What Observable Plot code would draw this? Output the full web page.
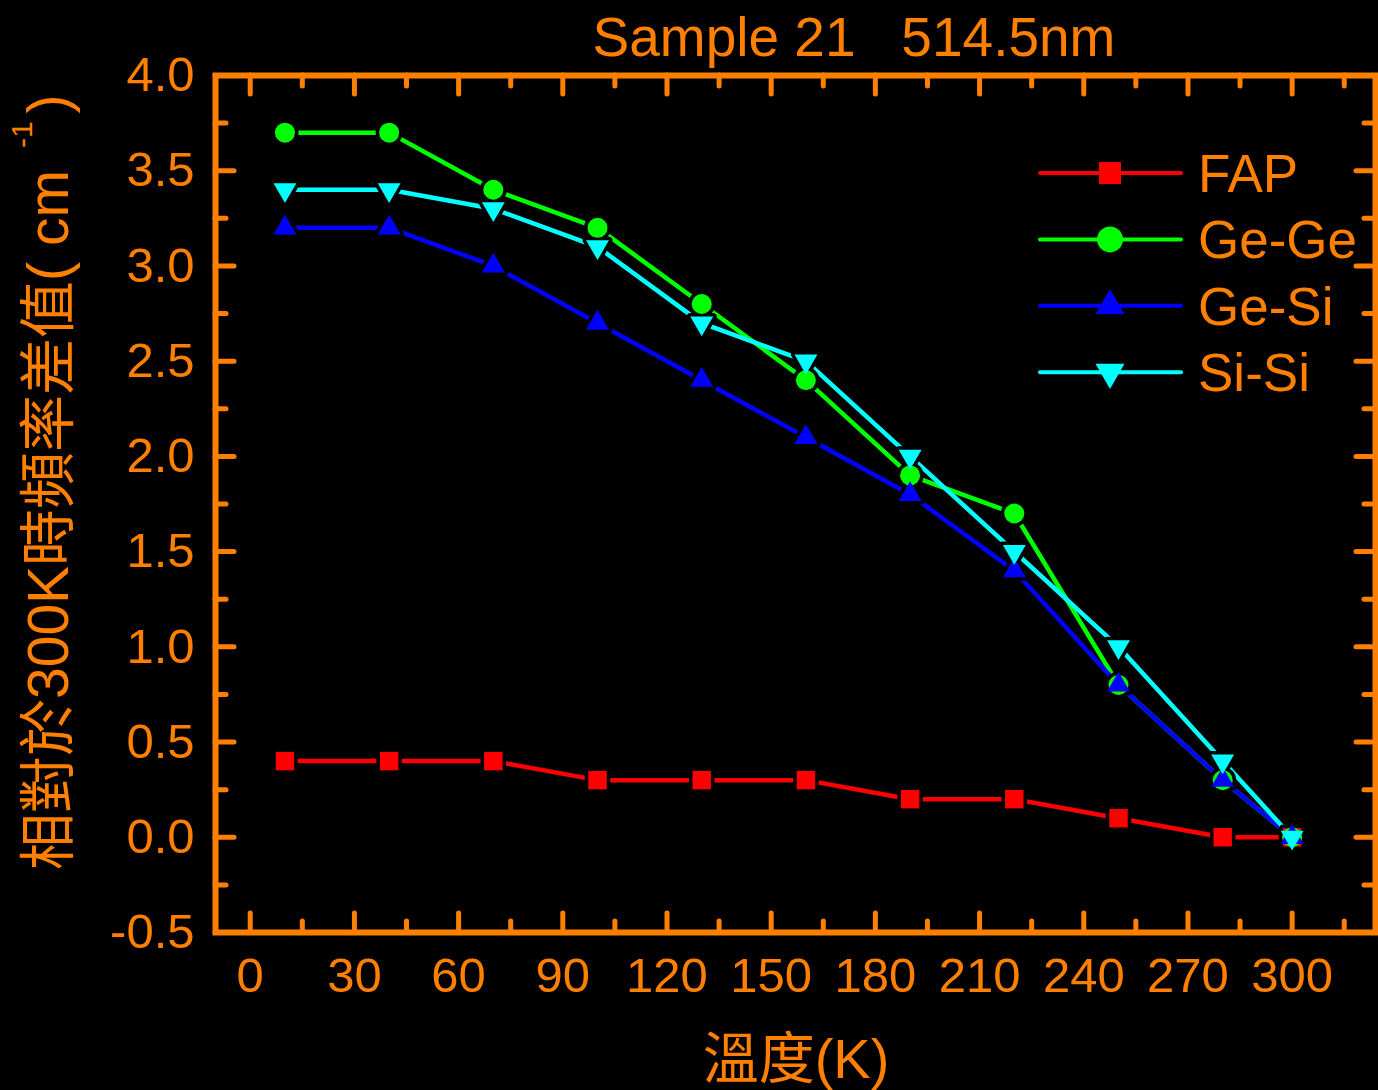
<!DOCTYPE html>
<html>
<head>
<meta charset="utf-8">
<script src="https://cdn.jsdelivr.net/npm/d3@7"></script>
<script src="https://cdn.jsdelivr.net/npm/@observablehq/plot@0.6"></script>
<style>
  html, body { margin: 0; padding: 0; background: #000; }
  #chart svg { display: block; }
</style>
</head>
<body>
<div id="chart"></div>
<script>
// ---------- data ----------
const temperatures = [10, 40, 70, 100, 130, 160, 190, 220, 250, 280, 300];
const seriesNames = ["FAP", "Ge-Ge", "Ge-Si", "Si-Si"];
const fapValues  = [0.4, 0.4, 0.4, 0.3, 0.3, 0.3, 0.2, 0.2, 0.1, 0.0, 0.0];
const geGeValues = [3.7, 3.7, 3.4, 3.2, 2.8, 2.4, 1.9, 1.7, 0.8, 0.3, 0.0];
const geSiValues = [3.2, 3.2, 3.0, 2.7, 2.4, 2.1, 1.8, 1.4, 0.8, 0.3, 0.0];
const siSiValues = [3.4, 3.4, 3.3, 3.1, 2.7, 2.5, 2.0, 1.5, 1.0, 0.4, 0.0];
const seriesValues = [fapValues, geGeValues, geSiValues, siSiValues];

const xMajorTicks = [0, 30, 60, 90, 120, 150, 180, 210, 240, 270, 300];
const xMinorTicks = [15, 45, 75, 105, 135, 165, 195, 225, 255, 285, 315];
const yMajorTicks = [-0.5, 0.0, 0.5, 1.0, 1.5, 2.0, 2.5, 3.0, 3.5, 4.0];
const yMinorTicks = [-0.25, 0.25, 0.75, 1.25, 1.75, 2.25, 2.75, 3.25, 3.75];

const titleText = "Sample 21   514.5nm";
const xLabelText = "溫度(K)";
const yLabelMain = "相對於300K時頻率差值( cm";
const yLabelSup = "-1";
const yLabelEnd = ")";

// ---------- styles ----------
const ORANGE = "#ff8000";
const seriesColors = ["#ff0000", "#00ff00", "#0000ff", "#00ffff"];
const triangleDown = {
  draw(context, size) {
    const y = -Math.sqrt(size / (Math.sqrt(3) * 3));
    context.moveTo(0, -y * 2);
    context.lineTo(-Math.sqrt(3) * y, y);
    context.lineTo(Math.sqrt(3) * y, y);
    context.closePath();
  }
};
const seriesSymbols = ["square", "circle", "triangle", triangleDown];
const seriesR = [10.4, 10, 8.5, 8.5];
const legendSizes = [484, 531, 364, 364];
const FONT = "'Liberation Sans', Arial, 'Noto Sans CJK TC', sans-serif";

const W = 1378, H = 1090;
const mTop = 75, mBottom = 158, mLeft = 215, mRight = 3;
const innerH = H - mTop - mBottom, innerW = W - mLeft - mRight;
const majorLen = 19, minorLen = 11;

const rows = seriesNames.map((name, i) =>
  temperatures.map((t, j) => ({series: name, t, v: seriesValues[i][j]})));

const marks = [];
// ticks (inward, on all four sides)
marks.push(
  Plot.tickX(xMajorTicks, {x: d => d, stroke: ORANGE, strokeWidth: 5, strokeLinecap: "round", insetTop: innerH - majorLen}),
  Plot.tickX(xMajorTicks, {x: d => d, stroke: ORANGE, strokeWidth: 5, strokeLinecap: "round", insetBottom: innerH - majorLen}),
  Plot.tickX(xMinorTicks, {x: d => d, stroke: ORANGE, strokeWidth: 5, strokeLinecap: "round", insetTop: innerH - minorLen}),
  Plot.tickX(xMinorTicks, {x: d => d, stroke: ORANGE, strokeWidth: 5, strokeLinecap: "round", insetBottom: innerH - minorLen}),
  Plot.tickY(yMajorTicks, {y: d => d, stroke: ORANGE, strokeWidth: 5, strokeLinecap: "round", insetRight: innerW - majorLen}),
  Plot.tickY(yMajorTicks, {y: d => d, stroke: ORANGE, strokeWidth: 5, strokeLinecap: "round", insetLeft: innerW - majorLen}),
  Plot.tickY(yMinorTicks, {y: d => d, stroke: ORANGE, strokeWidth: 5, strokeLinecap: "round", insetRight: innerW - minorLen}),
  Plot.tickY(yMinorTicks, {y: d => d, stroke: ORANGE, strokeWidth: 5, strokeLinecap: "round", insetLeft: innerW - minorLen})
);
// series lines
rows.forEach((data, i) => {
  marks.push(Plot.line(data, {x: "t", y: "v", stroke: seriesColors[i], strokeWidth: 4.5, strokeLinecap: "round"}));
});
// black halos to create gaps between lines and markers
rows.forEach((data, i) => {
  marks.push(Plot.dot(data, {x: "t", y: "v", symbol: seriesSymbols[i], r: seriesR[i], fill: "black", stroke: "black", strokeWidth: 7, strokeLinejoin: "round"}));
});
// markers
rows.forEach((data, i) => {
  marks.push(Plot.dot(data, {x: "t", y: "v", symbol: seriesSymbols[i], r: seriesR[i], fill: seriesColors[i], stroke: "none"}));
});
// axes labels
marks.push(
  Plot.axisX({ticks: xMajorTicks, tickSize: 0, tickPadding: 25, fontSize: 49, label: null, fill: ORANGE}),
  Plot.axisY({ticks: yMajorTicks, tickSize: 0, tickPadding: 21, fontSize: 49, label: null, fill: ORANGE, tickFormat: d => d.toFixed(1)}),
  Plot.frame({stroke: ORANGE, strokeWidth: 6})
);

const svg = Plot.plot({
  width: W, height: H,
  marginTop: mTop, marginBottom: mBottom, marginLeft: mLeft, marginRight: mRight,
  style: {background: "black", color: ORANGE, fontFamily: FONT},
  x: {domain: [-10, 324], label: null},
  y: {domain: [-0.5, 4.0], label: null},
  marks
});

const s = d3.select(svg);
// title
s.append("text")
  .attr("x", 854).attr("y", 56)
  .attr("text-anchor", "middle")
  .attr("fill", ORANGE).attr("font-family", FONT).attr("font-size", 55)
  .style("white-space", "pre")
  .text(titleText);
// x label
s.append("text")
  .attr("x", 796).attr("y", 1078)
  .attr("text-anchor", "middle")
  .attr("fill", ORANGE).attr("font-family", FONT).attr("font-size", 56)
  .text(xLabelText);
// y label (rotated)
const yl = s.append("text")
  .attr("transform", "translate(68,870) rotate(-90)")
  .attr("text-anchor", "start")
  .attr("fill", ORANGE).attr("font-family", FONT).attr("font-size", 57)
  .style("white-space", "pre");
yl.append("tspan").text(yLabelMain);
yl.append("tspan").attr("font-size", 30).attr("dx", 22).attr("dy", -36).text(yLabelSup);
yl.append("tspan").attr("dx", 8).attr("dy", 36).text(yLabelEnd);

// legend
const lg = s.append("g");
seriesNames.forEach((name, i) => {
  const y = 173 + i * 66.4;
  lg.append("line").attr("x1", 1040).attr("x2", 1181).attr("y1", y).attr("y2", y)
    .attr("stroke", seriesColors[i]).attr("stroke-width", 4).attr("stroke-linecap", "round");
  const sym = typeof seriesSymbols[i] === "string"
    ? {square: d3.symbolSquare, circle: d3.symbolCircle, triangle: d3.symbolTriangle}[seriesSymbols[i]]
    : seriesSymbols[i];
  lg.append("path").attr("transform", `translate(1110,${y})`)
    .attr("d", d3.symbol().type(sym).size(legendSizes[i])())
    .attr("fill", seriesColors[i]);
  lg.append("text").attr("x", 1198).attr("y", y).attr("dy", "0.36em")
    .attr("text-anchor", "start")
    .attr("fill", ORANGE).attr("font-family", FONT).attr("font-size", 53)
    .text(name);
});

document.getElementById("chart").appendChild(svg);
</script>
</body>
</html>
